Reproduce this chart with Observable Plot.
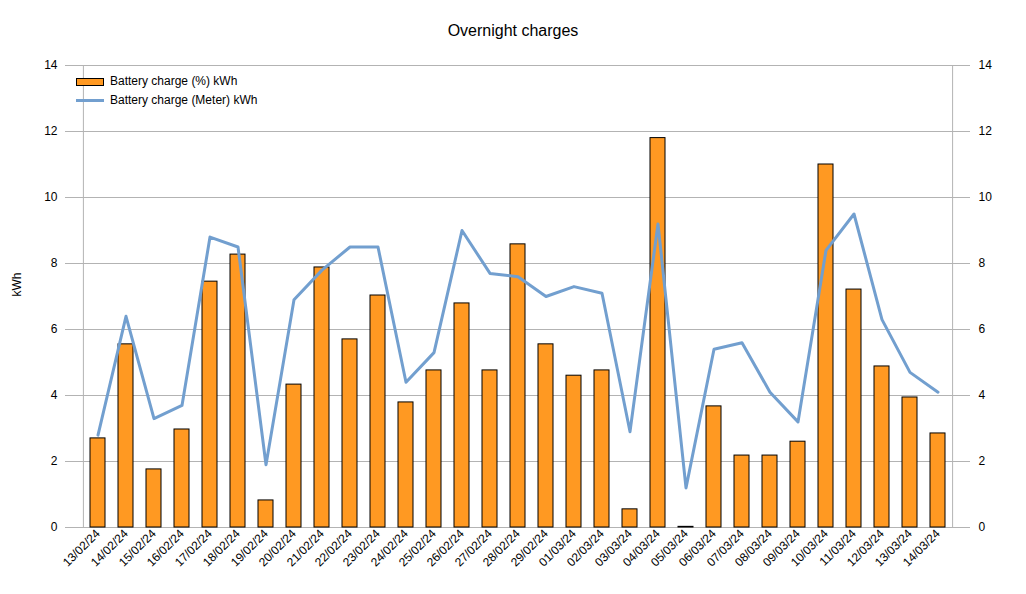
<!DOCTYPE html>
<html><head><meta charset="utf-8">
<script src="https://cdn.jsdelivr.net/npm/d3@7"></script>
<script src="https://cdn.jsdelivr.net/npm/@observablehq/plot@0.6"></script>
<style>
body{margin:0;background:#fff;font-family:"Liberation Sans",Arial,sans-serif;}
#wrap{position:relative;width:1026px;height:594px;}
#title{position:absolute;top:22px;left:0;width:1026px;text-align:center;font-size:16px;}
#legend{position:absolute;left:76px;top:72px;font-size:12px;line-height:19px;}
#legend div{display:flex;align-items:center;}
.sw{display:inline-block;width:28px;margin-right:6px;}
</style></head><body>
<div id="wrap">
<div id="title">Overnight charges</div>
<div id="legend">
<div><span class="sw" style="height:8px;background:#ff9922;border:1px solid #000;box-sizing:border-box"></span>Battery charge (%) kWh</div>
<div><span class="sw" style="height:3px;background:#729fcf"></span>Battery charge (Meter) kWh</div>
</div>
</div>
<script>
const dates = ["13/02/24","14/02/24","15/02/24","16/02/24","17/02/24","18/02/24","19/02/24","20/02/24","21/02/24","22/02/24","23/02/24","24/02/24","25/02/24","26/02/24","27/02/24","28/02/24","29/02/24","01/03/24","02/03/24","03/03/24","04/03/24","05/03/24","06/03/24","07/03/24","08/03/24","09/03/24","10/03/24","11/03/24","12/03/24","13/03/24","14/03/24"];
const percentCharge = [2.7,5.55,1.76,2.97,7.45,8.27,0.82,4.33,7.88,5.7,7.03,3.79,4.76,6.79,4.76,8.58,5.55,4.6,4.76,0.55,11.8,0.02,3.67,2.18,2.18,2.6,11.0,7.21,4.88,3.94,2.85];
const meterCharge = [2.8,6.4,3.3,3.7,8.8,8.5,1.9,6.9,7.8,8.5,8.5,4.4,5.3,9.0,7.7,7.6,7.0,7.3,7.1,2.9,9.2,1.2,5.4,5.6,4.1,3.2,8.4,9.5,6.3,4.7,4.1];
const yTicks = [0,2,4,6,8,10,12,14];
const rows = dates.map((d,i)=>({date:d,pct:percentCharge[i],meter:meterCharge[i]}));
const chart = Plot.plot({
  width:1026, height:594, marginTop:65, marginBottom:67, marginLeft:65, marginRight:56,
  style:{fontFamily:"Liberation Sans, Arial, sans-serif", fontSize:"12px", background:"transparent"},
  x:{type:"band", domain:dates, padding:0.45, label:null},
  y:{domain:[0,14], ticks:yTicks, label:null},
  marks:[
    Plot.gridY(yTicks,{stroke:"#b3b3b3", strokeOpacity:1}),
    Plot.ruleX([0],{x:()=>dates[0], dx:-14.6, y1:0, y2:14, stroke:"#b3b3b3"}),
    Plot.ruleX([0],{x:()=>dates[dates.length-1], dx:14.6, y1:0, y2:14, stroke:"#b3b3b3"}),
    Plot.barY(rows,{x:"date", y:"pct", fill:"#ff9922", stroke:"#000", strokeWidth:1}),
    Plot.line(rows,{x:"date", y:"meter", stroke:"#729fcf", strokeWidth:3}),
    Plot.axisY(yTicks,{anchor:"left", tickSize:0, tickPadding:8, label:null}),
    Plot.axisY(yTicks,{anchor:"right", tickSize:0, tickPadding:8, label:null}),
    Plot.axisX({tickRotate:-45, tickSize:0, tickPadding:4, label:null, fontSize:12}),
    Plot.text(["kWh"],{frameAnchor:"left", dx:-48, rotate:-90, fontSize:12})
  ]
});
document.getElementById("wrap").appendChild(chart);
chart.style.position="absolute"; chart.style.left="0"; chart.style.top="0"; chart.style.zIndex="0";
document.getElementById("title").style.zIndex="1";
document.getElementById("legend").style.zIndex="1";
</script>
</body></html>
